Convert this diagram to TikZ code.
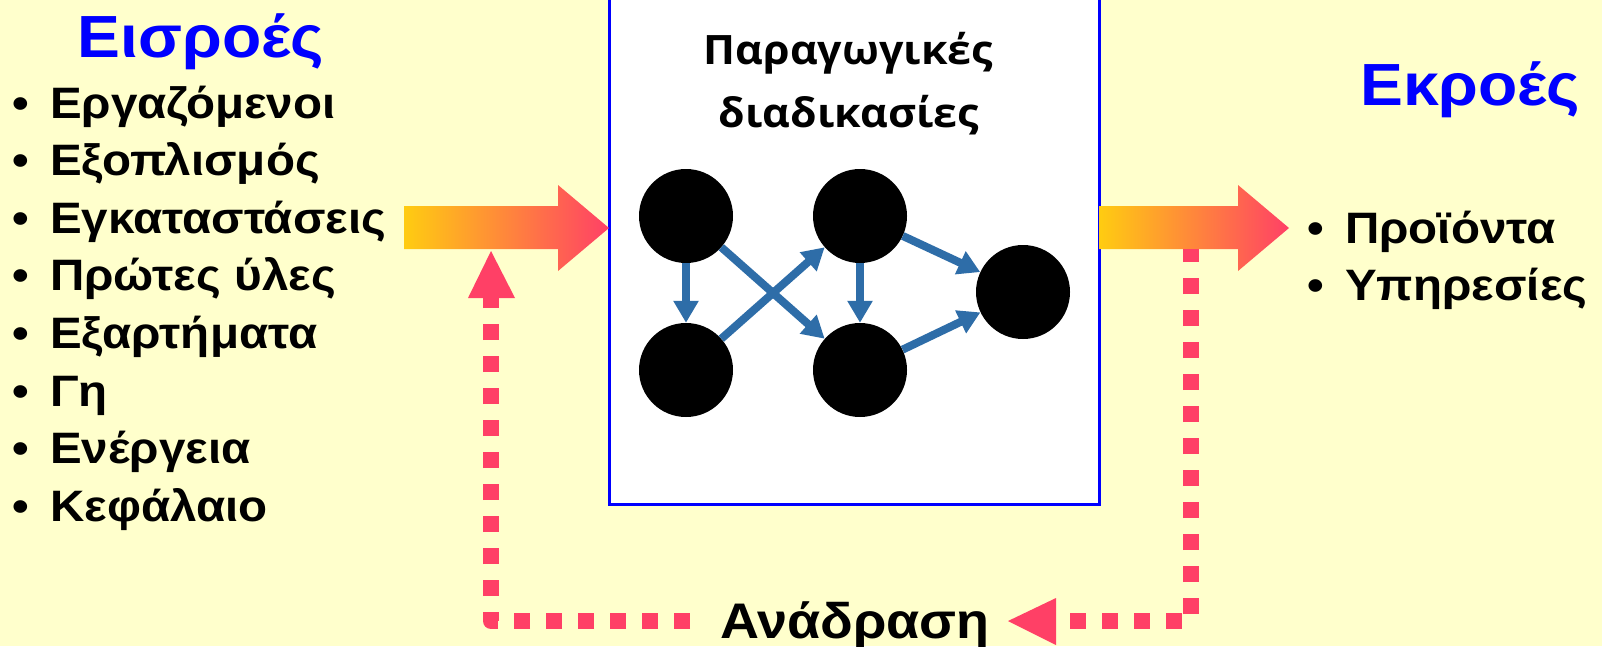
\documentclass[tikz,border=0pt]{standalone}
\usepackage{fontspec}
\setmainfont{Liberation Sans}[FakeStretch=1.08]
\newfontfamily\titlefont{Open Sans}[FakeStretch=1.06]
\usetikzlibrary{arrows.meta}
\definecolor{bg}{RGB}{255,255,204}
\definecolor{flowY}{RGB}{255,204,17}
\definecolor{flowR}{RGB}{255,64,102}
\definecolor{fbred}{RGB}{255,64,102}
\definecolor{netblue}{RGB}{46,109,168}
\begin{document}
\begin{tikzpicture}[x=1pt,y=-1pt,
  item/.style={anchor=base west, inner sep=0pt, font=\bfseries\fontsize{44}{50}\selectfont},
  bul/.style={anchor=base west, inner sep=0pt, font=\bfseries\fontsize{44}{50}\selectfont},
  head/.style={anchor=base west, inner sep=0pt, text=blue, font=\bfseries\fontsize{59.5}{66}\selectfont},
  ttl/.style={anchor=base, inner sep=0pt, font=\titlefont\bfseries\fontsize{40.5}{45}\selectfont},
  dot/.style={circle, fill=black, minimum size=94pt, inner sep=0pt},
  flow/.style={draw=netblue, line width=8pt, -{Triangle[length=22pt,width=24pt]}},
  fb/.style={draw=fbred, line width=16pt, dash pattern=on 16pt off 16pt},
  fbhead/.style={fill=fbred},
  bigarrow/.style={left color=flowY, right color=flowR},
  procbox/.style={draw=blue, fill=white, line width=3pt},
  ]
\useasboundingbox (0,0) rectangle (1602,646);
\clip (0,0) rectangle (1602,646);
\fill[bg] (0,0) rectangle (1602,646);

% process box
\draw[procbox] (609,-10) rectangle (1099,504);
\node[ttl] (t1) at (848.5,64) {Παραγωγικές};
\node[ttl] (t2) at (849,127) {διαδικασίες};

% network
\node[dot] (A) at (686,216) {};
\node[dot] (B) at (686,370) {};
\node[dot] (C) at (860,216) {};
\node[dot] (D) at (860,370) {};
\node[dot] (E) at (1023,292) {};
\draw[flow] (A) -- (B);
\draw[flow] (A) -- (D);
\draw[flow] (B) -- (C);
\draw[flow] (C) -- (D);
\draw[flow] (C) -- (E);
\draw[flow] (D) -- (E);

% big gradient arrows
\shade[bigarrow] (404,206) -- (558,206) -- (558,185) -- (609,228) -- (558,271) -- (558,249) -- (404,249) -- cycle;
\shade[bigarrow] (1099,206) -- (1238,206) -- (1238,185) -- (1289,228) -- (1238,271) -- (1238,249) -- (1099,249) -- cycle;

% inputs
\node[head] (inh) at (77.5,57) {Εισροές};
\foreach \t [count=\i from 0] in {Εργαζόμενοι,Εξοπλισμός,Εγκαταστάσεις,Πρώτες ύλες,Εξαρτήματα,Γη,Ενέργεια,Κεφάλαιο}{
  \node[bul] (b\i) at (12,118+57.6*\i) {•};
  \node[item] (in\i) at (50,118+57.6*\i) {\t};
}

% outputs
\node[head] (outh) at (1360,105) {Εκροές};
\node[bul] (ob1) at (1307,243) {•};
\node[item] (out1) at (1345,243) {Προϊόντα};
\node[bul] (ob2) at (1307,300) {•};
\node[item] (out2) at (1345,300) {Υπηρεσίες};

% feedback
\node[anchor=base west, inner sep=0pt, font=\bfseries\fontsize{50}{58}\selectfont] (fbl) at (720,638) {Ανάδραση};
\coordinate (r0) at (1070,621);
\coordinate (rc) at (1191,621);
\coordinate (r1) at (1191,249);
\draw[fb] (r0) -- (rc) -- (r1);
\fill[fbhead] (1008,621) -- (1056,598) -- (1056,645) -- cycle;
\coordinate (l0) at (690,621);
\coordinate (lc) at (491,621);
\coordinate (l1) at (491,298);
\draw[fb, line join=round] (l0) -- (lc) -- (l1);
\fill[fbhead] (491,251) -- (468,298) -- (515,298) -- cycle;
\end{tikzpicture}
\end{document}
